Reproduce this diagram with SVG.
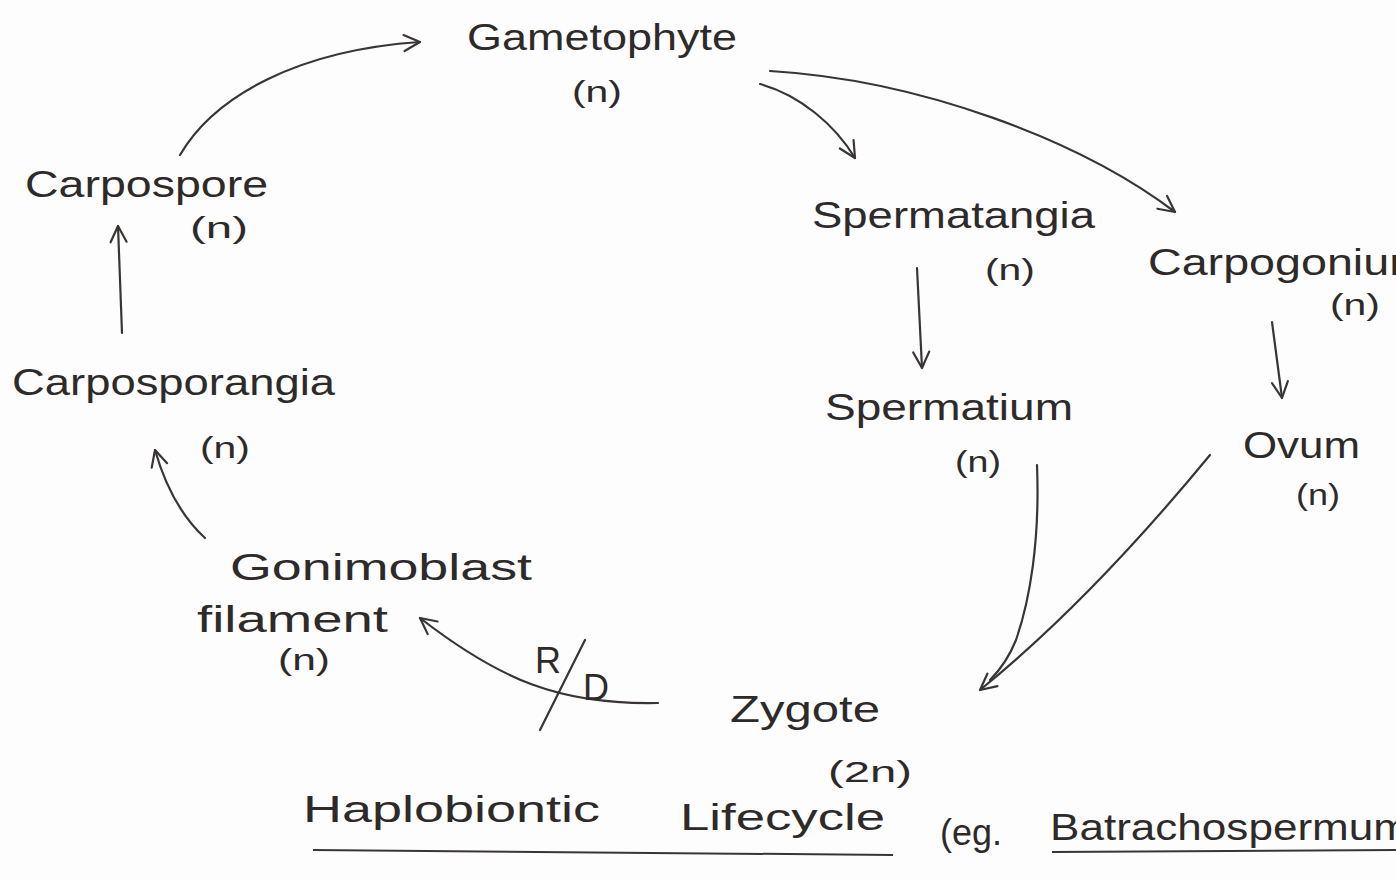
<svg xmlns="http://www.w3.org/2000/svg" width="1396" height="881" viewBox="0 0 1396 881">
<defs>
<marker id="ah" viewBox="0 0 20 20" refX="18" refY="10" markerWidth="20" markerHeight="20" markerUnits="userSpaceOnUse" orient="auto">
<path d="M2,2 L18,10 L2,18" fill="none" stroke="#3a3535" stroke-width="2.2" stroke-linecap="round" stroke-linejoin="round"/>
</marker>
</defs>
<style>
.t{font-family:"Liberation Sans","DejaVu Sans",sans-serif;fill:#2e2a2a;font-size:36px;}
.s{font-size:30px;}
.c{fill:none;stroke:#3a3535;stroke-width:2.2;stroke-linecap:round;}
.u{fill:none;stroke:#3a3535;stroke-width:2;}
</style>
<rect width="1396" height="881" fill="#fdfdfd"/>
<g id="connectors">
<path class="c" d="M180,155 C215,95 300,50 420,42" marker-end="url(#ah)"/>
<path class="c" d="M760,84 C800,95 835,125 855,158" marker-end="url(#ah)"/>
<path class="c" d="M770,71 C920,80 1080,140 1175,212" marker-end="url(#ah)"/>
<path class="c" d="M917,268 L922,368" marker-end="url(#ah)"/>
<path class="c" d="M1272,322 L1282,398" marker-end="url(#ah)"/>
<path class="c" d="M1037,465 C1040,540 1030,600 1016,640 C1008,660 998,672 990,680"/>
<path class="c" d="M1210,455 C1140,540 1060,625 980,690" marker-end="url(#ah)"/>
<path class="c" d="M658,703 C560,705 500,680 420,618" marker-end="url(#ah)"/>
<path class="c" d="M205,538 C180,515 165,485 155,450" marker-end="url(#ah)"/>
<path class="c" d="M122,333 L118,226" marker-end="url(#ah)"/>
<path class="c" d="M540,730 L585,640"/>
</g>
<g id="gametophyte">
<text class="t" x="467" y="50" textLength="270" lengthAdjust="spacingAndGlyphs">Gametophyte</text>
<text class="t s" x="572" y="102" textLength="50" lengthAdjust="spacingAndGlyphs">(n)</text>
</g>
<g id="spermatangia">
<text class="t" x="812" y="228" textLength="283" lengthAdjust="spacingAndGlyphs">Spermatangia</text>
<text class="t s" x="985" y="280" textLength="50" lengthAdjust="spacingAndGlyphs">(n)</text>
</g>
<g id="carpogonium">
<text class="t" x="1148" y="275" textLength="280" lengthAdjust="spacingAndGlyphs">Carpogonium</text>
<text class="t s" x="1330" y="315" textLength="50" lengthAdjust="spacingAndGlyphs">(n)</text>
</g>
<g id="spermatium">
<text class="t" x="825" y="420" textLength="248" lengthAdjust="spacingAndGlyphs">Spermatium</text>
<text class="t s" x="955" y="472" textLength="46" lengthAdjust="spacingAndGlyphs">(n)</text>
</g>
<g id="ovum">
<text class="t" x="1243" y="458" textLength="117" lengthAdjust="spacingAndGlyphs">Ovum</text>
<text class="t s" x="1296" y="505" textLength="44" lengthAdjust="spacingAndGlyphs">(n)</text>
</g>
<g id="zygote">
<text class="t" x="730" y="722" textLength="150" lengthAdjust="spacingAndGlyphs">Zygote</text>
<text class="t s" x="828" y="782" textLength="84" lengthAdjust="spacingAndGlyphs">(2n)</text>
</g>
<g id="gonimoblast">
<text class="t" x="230" y="580" textLength="302" lengthAdjust="spacingAndGlyphs">Gonimoblast</text>
<text class="t" x="197" y="632" textLength="191" lengthAdjust="spacingAndGlyphs">filament</text>
<text class="t s" x="278" y="670" textLength="52" lengthAdjust="spacingAndGlyphs">(n)</text>
</g>
<g id="rd">
<text class="t" x="535" y="673" font-size="34">R</text>
<text class="t" x="583" y="700" font-size="34">D</text>
</g>
<g id="carposporangia">
<text class="t" x="12" y="395" textLength="323" lengthAdjust="spacingAndGlyphs">Carposporangia</text>
<text class="t s" x="200" y="458" textLength="50" lengthAdjust="spacingAndGlyphs">(n)</text>
</g>
<g id="carpospore">
<text class="t" x="25" y="197" textLength="243" lengthAdjust="spacingAndGlyphs">Carpospore</text>
<text class="t s" x="190" y="238" textLength="58" lengthAdjust="spacingAndGlyphs">(n)</text>
</g>
<g id="title">
<text class="t" x="303" y="822" textLength="297" lengthAdjust="spacingAndGlyphs">Haplobiontic</text>
<text class="t" x="680" y="830" textLength="205" lengthAdjust="spacingAndGlyphs">Lifecycle</text>
<text class="t" x="940" y="845" textLength="62" lengthAdjust="spacingAndGlyphs">(eg.</text>
<text class="t" x="1050" y="840" textLength="360" lengthAdjust="spacingAndGlyphs">Batrachospermum</text>
<path class="u" d="M313,850 L893,855"/>
<path class="u" d="M1052,852 L1396,850"/>
</g>
</svg>
